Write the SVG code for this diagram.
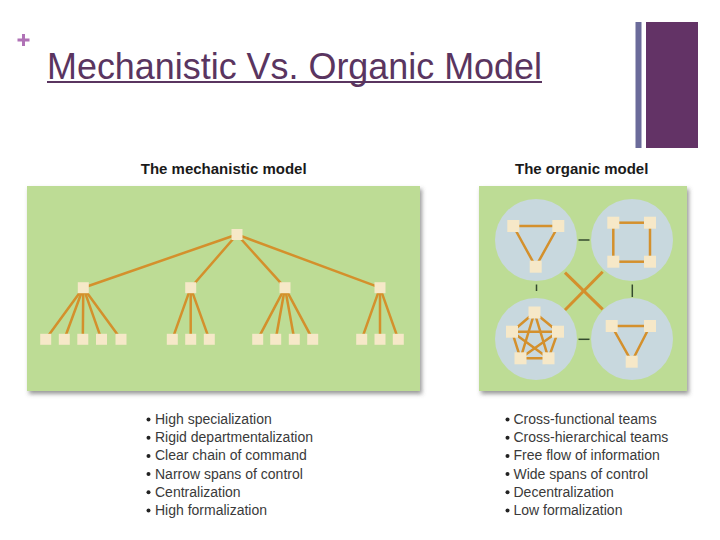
<svg xmlns="http://www.w3.org/2000/svg" width="720" height="540" viewBox="0 0 720 540">
<defs>
<filter id="sh" x="-5%" y="-5%" width="115%" height="115%">
<feDropShadow dx="2" dy="3" stdDeviation="2" flood-color="#555" flood-opacity="0.6"/>
</filter>
<style>
.title{font-family:"Liberation Sans",Arial,sans-serif;font-size:37px;fill:#5a3560}
.ptitle{font-family:"Liberation Sans",Arial,sans-serif;font-size:15px;font-weight:bold;fill:#1a1a1a;text-anchor:middle}
.li{font-family:"Liberation Sans",Arial,sans-serif;font-size:14px;fill:#3a3a3a}
.panel{fill:#bddc95;filter:url(#sh)}
.circ{fill:#c8d8de}
.n{fill:#f6e8c8}
.e{stroke:#d4902c;stroke-width:2.5;fill:none;stroke-linecap:round}
.eo{stroke:#d4902c;stroke-width:3;fill:none}
.dk{stroke:#344a2e;stroke-width:1.5}
.bul{fill:#222}
</style>
</defs>
<rect width="720" height="540" fill="#ffffff"/>
<!-- header -->
<g id="header">
<path d="M17.5 40 H29.5 M23.5 34 V46" stroke="#b072b6" stroke-width="3"/>
<text class="title" x="47" y="79" textLength="495" lengthAdjust="spacingAndGlyphs">Mechanistic Vs. Organic Model</text>
<line x1="47" y1="82" x2="542" y2="82" stroke="#5a3560" stroke-width="2"/>
<rect x="635.5" y="22" width="6" height="126" fill="#6b6b9a"/>
<rect x="646" y="22" width="52" height="126" fill="#633366"/>
</g>
<!-- panel titles -->
<text class="ptitle" x="223.7" y="174">The mechanistic model</text>
<text class="ptitle" x="581.7" y="174">The organic model</text>
<!-- panels -->
<rect class="panel" x="27" y="186" width="393" height="205"/>
<rect class="panel" x="479" y="186" width="208" height="205"/>
<!-- organic circles -->
<g id="circles">
<circle class="circ" cx="536" cy="240" r="41"/>
<circle class="circ" cx="632" cy="240" r="41"/>
<circle class="circ" cx="536" cy="339" r="41"/>
<circle class="circ" cx="632" cy="339" r="41"/>
</g>
<!-- connectors -->
<g id="connectors">
<!-- mechanistic -->
<line class="e" x1="237" y1="234.5" x2="83.3" y2="287.7"/>
<line class="e" x1="237" y1="234.5" x2="190.7" y2="287.7"/>
<line class="e" x1="237" y1="234.5" x2="285" y2="287.7"/>
<line class="e" x1="237" y1="234.5" x2="380" y2="287.7"/>
<line class="e" x1="83.3" y1="287.7" x2="45.7" y2="339.3"/>
<line class="e" x1="83.3" y1="287.7" x2="64.3" y2="339.3"/>
<line class="e" x1="83.3" y1="287.7" x2="82.8" y2="339.3"/>
<line class="e" x1="83.3" y1="287.7" x2="101.5" y2="339.3"/>
<line class="e" x1="83.3" y1="287.7" x2="121" y2="339.3"/>
<line class="e" x1="190.7" y1="287.7" x2="172.3" y2="339.3"/>
<line class="e" x1="190.7" y1="287.7" x2="190.7" y2="339.3"/>
<line class="e" x1="190.7" y1="287.7" x2="209.3" y2="339.3"/>
<line class="e" x1="285" y1="287.7" x2="257.7" y2="339.3"/>
<line class="e" x1="285" y1="287.7" x2="275.7" y2="339.3"/>
<line class="e" x1="285" y1="287.7" x2="294.3" y2="339.3"/>
<line class="e" x1="285" y1="287.7" x2="312.7" y2="339.3"/>
<line class="e" x1="380" y1="287.7" x2="361.7" y2="339.3"/>
<line class="e" x1="380" y1="287.7" x2="380" y2="339.3"/>
<line class="e" x1="380" y1="287.7" x2="398.3" y2="339.3"/>
<!-- organic inter-circle -->
<line class="dk" x1="578.5" y1="240" x2="589.5" y2="240"/>
<line class="dk" x1="578.5" y1="339.3" x2="589.5" y2="339.3"/>
<line class="dk" x1="536.5" y1="284.5" x2="536.5" y2="291"/>
<line class="dk" x1="632.3" y1="284.5" x2="632.3" y2="297"/>
<line class="eo" x1="565" y1="272.7" x2="602.7" y2="309.3"/>
<line class="eo" x1="602.7" y1="271.7" x2="565" y2="310"/>
<!-- TL triangle -->
<line class="e" x1="513.3" y1="226" x2="558.3" y2="226"/>
<line class="e" x1="513.3" y1="226" x2="535.7" y2="266.7"/>
<line class="e" x1="558.3" y1="226" x2="535.7" y2="266.7"/>
<!-- TR square -->
<rect class="e" x="613.3" y="222.7" width="36.7" height="39"/>
<!-- BR triangle -->
<line class="e" x1="611.7" y1="326" x2="650" y2="326"/>
<line class="e" x1="611.7" y1="326" x2="631.7" y2="361.7"/>
<line class="e" x1="650" y1="326" x2="631.7" y2="361.7"/>
<!-- BL pentagon K5 -->
<line class="e" x1="534.5" y1="312.5" x2="512" y2="331.7"/>
<line class="e" x1="534.5" y1="312.5" x2="558" y2="331.7"/>
<line class="e" x1="534.5" y1="312.5" x2="520.5" y2="358.3"/>
<line class="e" x1="534.5" y1="312.5" x2="548.5" y2="358.3"/>
<line class="e" x1="512" y1="331.7" x2="558" y2="331.7"/>
<line class="e" x1="512" y1="331.7" x2="520.5" y2="358.3"/>
<line class="e" x1="512" y1="331.7" x2="548.5" y2="358.3"/>
<line class="e" x1="558" y1="331.7" x2="520.5" y2="358.3"/>
<line class="e" x1="558" y1="331.7" x2="548.5" y2="358.3"/>
<line class="e" x1="520.5" y1="358.3" x2="548.5" y2="358.3"/>
</g>
<!-- mechanistic nodes -->
<g id="mech-top"><rect class="n" x="231.5" y="229" width="11" height="11"/></g>
<g id="mech-mid">
<rect class="n" x="77.8" y="282.2" width="11" height="11"/>
<rect class="n" x="185.2" y="282.2" width="11" height="11"/>
<rect class="n" x="279.5" y="282.2" width="11" height="11"/>
<rect class="n" x="374.5" y="282.2" width="11" height="11"/>
</g>
<g id="mech-bottom">
<rect class="n" x="40.2" y="333.8" width="11" height="11"/>
<rect class="n" x="58.8" y="333.8" width="11" height="11"/>
<rect class="n" x="77.3" y="333.8" width="11" height="11"/>
<rect class="n" x="96" y="333.8" width="11" height="11"/>
<rect class="n" x="115.5" y="333.8" width="11" height="11"/>
<rect class="n" x="166.8" y="333.8" width="11" height="11"/>
<rect class="n" x="185.2" y="333.8" width="11" height="11"/>
<rect class="n" x="203.8" y="333.8" width="11" height="11"/>
<rect class="n" x="252.2" y="333.8" width="11" height="11"/>
<rect class="n" x="270.2" y="333.8" width="11" height="11"/>
<rect class="n" x="288.8" y="333.8" width="11" height="11"/>
<rect class="n" x="307.2" y="333.8" width="11" height="11"/>
<rect class="n" x="356.2" y="333.8" width="11" height="11"/>
<rect class="n" x="374.5" y="333.8" width="11" height="11"/>
<rect class="n" x="392.8" y="333.8" width="11" height="11"/>
</g>
<!-- organic nodes -->
<g id="org-tl">
<rect class="n" x="507.3" y="220" width="12" height="12"/>
<rect class="n" x="552.3" y="220" width="12" height="12"/>
<rect class="n" x="529.7" y="260.7" width="12" height="12"/>
</g>
<g id="org-tr">
<rect class="n" x="607.3" y="216.7" width="12" height="12"/>
<rect class="n" x="644" y="216.7" width="12" height="12"/>
<rect class="n" x="607.3" y="255.7" width="12" height="12"/>
<rect class="n" x="644" y="255.7" width="12" height="12"/>
</g>
<g id="org-br">
<rect class="n" x="605.7" y="320" width="12" height="12"/>
<rect class="n" x="644" y="320" width="12" height="12"/>
<rect class="n" x="625.7" y="355.7" width="12" height="12"/>
</g>
<g id="org-bl">
<rect class="n" x="528.5" y="306.5" width="12" height="12"/>
<rect class="n" x="506" y="325.7" width="12" height="12"/>
<rect class="n" x="552" y="325.7" width="12" height="12"/>
<rect class="n" x="514.5" y="352.3" width="12" height="12"/>
<rect class="n" x="542.5" y="352.3" width="12" height="12"/>
</g>
<!-- lists -->
<g id="mech-list">
<circle class="bul" cx="148.5" cy="419.5" r="2"/>
<circle class="bul" cx="148.5" cy="437.7" r="2"/>
<circle class="bul" cx="148.5" cy="455.9" r="2"/>
<circle class="bul" cx="148.5" cy="474.1" r="2"/>
<circle class="bul" cx="148.5" cy="492.3" r="2"/>
<circle class="bul" cx="148.5" cy="510.5" r="2"/>
<text class="li" x="155" y="424">High specialization</text>
<text class="li" x="155" y="442.2">Rigid departmentalization</text>
<text class="li" x="155" y="460.4">Clear chain of command</text>
<text class="li" x="155" y="478.6">Narrow spans of control</text>
<text class="li" x="155" y="496.8">Centralization</text>
<text class="li" x="155" y="515">High formalization</text>
</g>
<g id="org-list">
<circle class="bul" cx="507.5" cy="419.5" r="2"/>
<circle class="bul" cx="507.5" cy="437.7" r="2"/>
<circle class="bul" cx="507.5" cy="455.9" r="2"/>
<circle class="bul" cx="507.5" cy="474.1" r="2"/>
<circle class="bul" cx="507.5" cy="492.3" r="2"/>
<circle class="bul" cx="507.5" cy="510.5" r="2"/>
<text class="li" x="513.5" y="424">Cross-functional teams</text>
<text class="li" x="513.5" y="442.2">Cross-hierarchical teams</text>
<text class="li" x="513.5" y="460.4">Free flow of information</text>
<text class="li" x="513.5" y="478.6">Wide spans of control</text>
<text class="li" x="513.5" y="496.8">Decentralization</text>
<text class="li" x="513.5" y="515">Low formalization</text>
</g>
</svg>
